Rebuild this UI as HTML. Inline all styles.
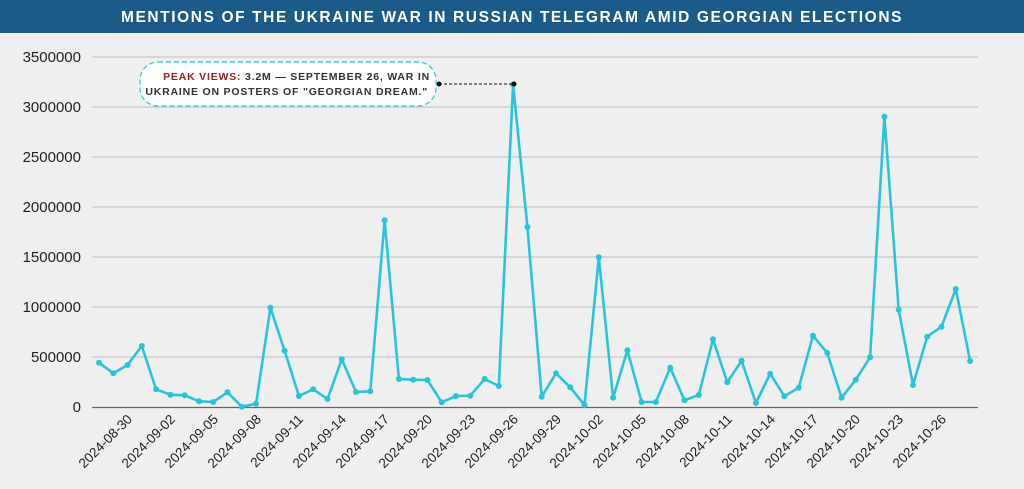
<!DOCTYPE html>
<html><head><meta charset="utf-8"><style>
html,body{margin:0;padding:0;background:#efefef;}
body{width:1024px;height:489px;overflow:hidden;position:relative;font-family:"Liberation Sans",sans-serif;}
.bar{position:absolute;left:0;top:0;width:1024px;height:33px;background:#1c5a8a;color:#fff;font-weight:bold;font-size:15.5px;letter-spacing:1.6px;text-align:center;line-height:35px;}
</style></head><body>
<div class="bar">MENTIONS OF THE UKRAINE WAR IN RUSSIAN TELEGRAM AMID GEORGIAN ELECTIONS</div>
<svg id="s" width="1024" height="489" style="position:absolute;left:0;top:0" font-family="Liberation Sans, sans-serif">
<g stroke="#c6c6c6" stroke-width="1.3">
<line x1="92" x2="978" y1="57" y2="57"/><line x1="92" x2="978" y1="107" y2="107"/>
<line x1="92" x2="978" y1="157" y2="157"/><line x1="92" x2="978" y1="207" y2="207"/>
<line x1="92" x2="978" y1="257" y2="257"/><line x1="92" x2="978" y1="307" y2="307"/>
<line x1="92" x2="978" y1="357" y2="357"/>
</g>
<line x1="92" x2="978" y1="407.5" y2="407.5" stroke="#666" stroke-width="1.3"/>
<g font-size="15" fill="#222" text-anchor="end">
<text x="81" y="62">3500000</text><text x="81" y="112">3000000</text>
<text x="81" y="162">2500000</text><text x="81" y="212">2000000</text>
<text x="81" y="262">1500000</text><text x="81" y="312">1000000</text>
<text x="81" y="362">500000</text><text x="81" y="412">0</text>
</g>
<g font-size="13.5" fill="#222" text-anchor="end">
<text transform="translate(133,420) rotate(-45)">2024-08-30</text>
<text transform="translate(176,420) rotate(-45)">2024-09-02</text>
<text transform="translate(219,420) rotate(-45)">2024-09-05</text>
<text transform="translate(262,420) rotate(-45)">2024-09-08</text>
<text transform="translate(304,420) rotate(-45)">2024-09-11</text>
<text transform="translate(347,420) rotate(-45)">2024-09-14</text>
<text transform="translate(390,420) rotate(-45)">2024-09-17</text>
<text transform="translate(433,420) rotate(-45)">2024-09-20</text>
<text transform="translate(476,420) rotate(-45)">2024-09-23</text>
<text transform="translate(519,420) rotate(-45)">2024-09-26</text>
<text transform="translate(562,420) rotate(-45)">2024-09-29</text>
<text transform="translate(604,420) rotate(-45)">2024-10-02</text>
<text transform="translate(647,420) rotate(-45)">2024-10-05</text>
<text transform="translate(690,420) rotate(-45)">2024-10-08</text>
<text transform="translate(733,420) rotate(-45)">2024-10-11</text>
<text transform="translate(776,420) rotate(-45)">2024-10-14</text>
<text transform="translate(819,420) rotate(-45)">2024-10-17</text>
<text transform="translate(861,420) rotate(-45)">2024-10-20</text>
<text transform="translate(904,420) rotate(-45)">2024-10-23</text>
<text transform="translate(947,420) rotate(-45)">2024-10-26</text>
</g>
<polyline id="ln" fill="none" stroke="#26c6da" stroke-width="2.6" stroke-linejoin="round"/>
<g id="dots" fill="#26c6da"></g>
<line x1="439" y1="84" x2="514" y2="84" stroke="#111" stroke-width="1" stroke-dasharray="3,2"/>
<circle cx="439" cy="84" r="2.5" fill="#111"/><circle cx="514" cy="84" r="2.5" fill="#111"/>
<rect x="140" y="62" width="296" height="44" rx="18" fill="#fff" stroke="#26c6da" stroke-width="1.2" stroke-dasharray="5,3"/>
<g font-size="10.5" font-weight="bold" fill="#333" letter-spacing="0.8" text-anchor="end">
<text x="430" y="80"><tspan fill="#a3201f">PEAK VIEWS:</tspan> 3.2M — SEPTEMBER 26, WAR IN</text>
<text x="428" y="95">UKRAINE ON POSTERS OF "GEORGIAN DREAM."</text>
</g>
</svg>
<script>
var v=[443,337,420,610,177,123,117,57,50,147,3,33,993,563,110,177,80,477,150,157,1867,280,273,270,47,110,113,280,210,3225,1800,103,337,197,20,1497,93,567,50,50,393,67,120,677,247,463,40,333,107,193,713,540,93,273,497,2903,973,220,703,803,1180,460];
var pts=[],d=document.getElementById('dots'),h='';
for(var i=0;i<v.length;i++){var x=99+i*14.28,y=407-v[i]/10;pts.push(x.toFixed(1)+','+y.toFixed(1));h+='<circle cx="'+x.toFixed(1)+'" cy="'+y.toFixed(1)+'" r="3"/>';}
document.getElementById('ln').setAttribute('points',pts.join(' '));
d.innerHTML=h;
</script>
</body></html>
